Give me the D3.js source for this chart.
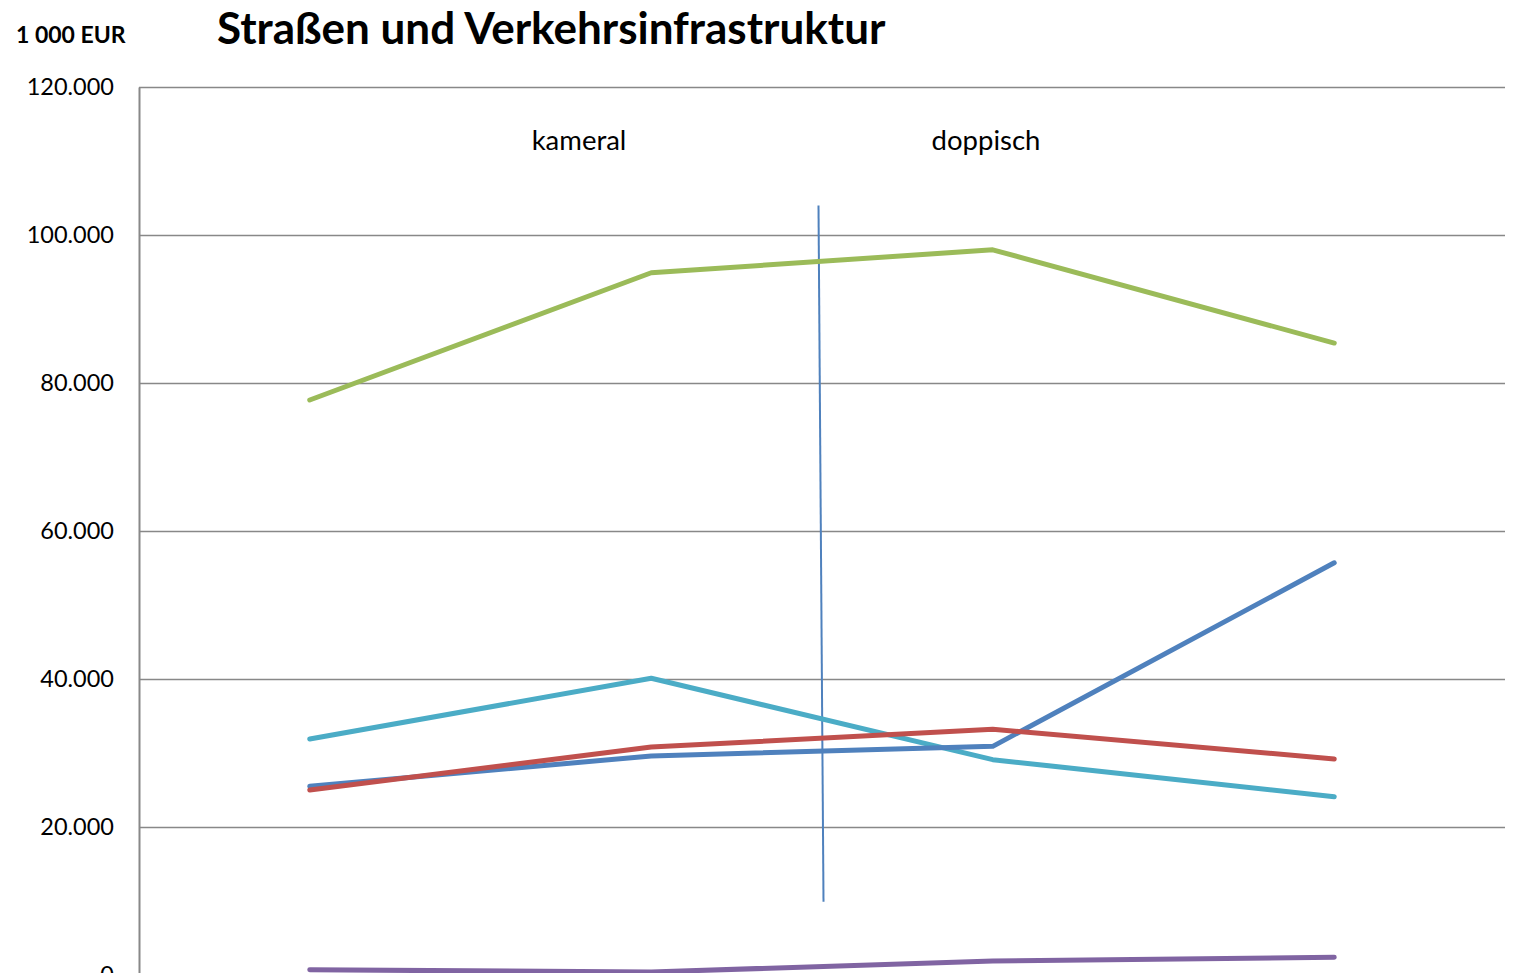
<!DOCTYPE html>
<html>
<head>
<meta charset="utf-8">
<script src="https://cdn.jsdelivr.net/npm/d3@7"></script>
<style>
  html, body { margin: 0; padding: 0; background: #fff; overflow: hidden; }
  svg { display: block; font-family: Lato, "Open Sans", sans-serif; }
</style>
</head>
<body>
<svg id="chart"></svg>
<script>
const categories = ["2007", "2009", "2011", "2013"];
const seriesNames = ["Blau", "Rot", "Grün", "Lila", "Türkis"];
const seriesColors = ["#4F81BD", "#C0504D", "#9BBB59", "#8064A2", "#4BACC6"];
const blueValues = [25500, 29600, 30900, 55700];
const redValues = [25000, 30800, 33200, 29200];
const greenValues = [77700, 94900, 98000, 85400];
const purpleValues = [700, 400, 1900, 2400];
const cyanValues = [31900, 40100, 29100, 24100];
const yTicks = [0, 20000, 40000, 60000, 80000, 100000, 120000];

const width = 1513, height = 973;
const margin = { top: 87, right: 8, bottom: -2, left: 139 };

const svg = d3.select("#chart").attr("width", width).attr("height", height);

const x = d3.scalePoint()
  .domain(categories)
  .range([margin.left, width - margin.right])
  .padding(0.5);

const y = d3.scaleLinear()
  .domain([0, 120000])
  .range([height - margin.bottom, margin.top]);

const de = d3.formatLocale({ decimal: ",", thousands: ".", grouping: [3], currency: ["", " €"] });
const fmt = de.format(",");

// gridlines
svg.append("g")
  .selectAll("line")
  .data(yTicks)
  .join("line")
  .attr("x1", margin.left)
  .attr("x2", width - margin.right)
  .attr("y1", d => Math.round(y(d)) + 0.5)
  .attr("y2", d => Math.round(y(d)) + 0.5)
  .attr("stroke", "#888")
  .attr("stroke-width", 1.5);

// y axis
const yAxis = svg.append("g")
  .attr("transform", `translate(${margin.left},0)`)
  .call(d3.axisLeft(y).tickValues(yTicks).tickFormat(fmt).tickSize(0).tickPadding(25));
yAxis.select(".domain").attr("stroke", "#888").attr("stroke-width", 2);
yAxis.selectAll("text")
  .attr("font-family", "Lato, 'Open Sans', sans-serif")
  .attr("font-size", 23.5)
  .attr("fill", "#000");

// divider line between kameral / doppisch
const mid = (x(categories[1]) + x(categories[2])) / 2;
svg.append("line")
  .attr("x1", mid - 3.5)
  .attr("y1", y(104000))
  .attr("x2", mid + 1.5)
  .attr("y2", y(9900))
  .attr("stroke", "#4F81BD")
  .attr("stroke-width", 2);

// series lines
const allValues = [blueValues, redValues, greenValues, purpleValues, cyanValues];
const line = d3.line()
  .x((d, i) => x(categories[i]))
  .y(d => y(d));

// draw order so overlaps resemble the original
const order = [4, 0, 1, 2, 3];
svg.append("g")
  .selectAll("path")
  .data(order)
  .join("path")
  .attr("d", k => line(allValues[k]))
  .attr("fill", "none")
  .attr("stroke", k => seriesColors[k])
  .attr("stroke-width", 5)
  .attr("stroke-linecap", "round")
  .attr("stroke-linejoin", "round");

// annotations
svg.append("text")
  .attr("x", 579)
  .attr("y", 150)
  .attr("text-anchor", "middle")
  .attr("font-size", 27.5)
  .text("kameral");

svg.append("text")
  .attr("x", 986)
  .attr("y", 150)
  .attr("text-anchor", "middle")
  .attr("font-size", 27.5)
  .text("doppisch");

// unit label
svg.append("text")
  .attr("x", 16)
  .attr("y", 43)
  .attr("font-size", 23)
  .attr("font-weight", 700)
  .text("1 000 EUR");

// title
svg.append("text")
  .attr("x", 217)
  .attr("y", 44)
  .attr("font-size", 44)
  .attr("font-weight", 700)
  .text("Straßen und Verkehrsinfrastruktur");
</script>
</body>
</html>
